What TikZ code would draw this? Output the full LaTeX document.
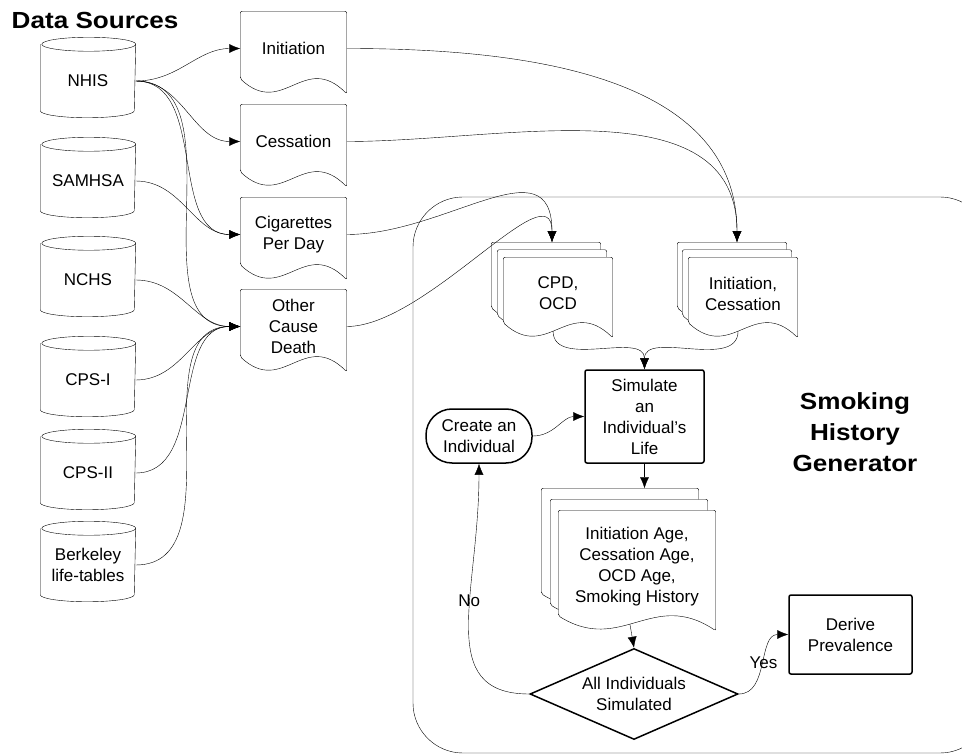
\documentclass[tikz,border=0pt]{standalone}
\usepackage{fontspec}
\setmainfont{Liberation Sans}
\newfontfamily\headfont[FakeStretch=1.12]{Liberation Sans}
\usetikzlibrary{arrows.meta, calc, backgrounds, shapes.geometric}

% data store outline round a source node
\newcommand{\cylpath}[1]{%
  (#1.north west) -- ([yshift=7pt]#1.south west)
  arc[start angle=180, end angle=360, x radius=47pt, y radius=7pt]
  -- (#1.north east)
  arc[start angle=0, end angle=360, x radius=47pt, y radius=7pt]}
% document outline (wavy bottom) round a docbox node
\newcommand{\docpath}[1]{%
  ([yshift=7pt]#1.south west) -- (#1.north west) -- (#1.north east)
  -- ([yshift=-8pt]#1.south east)
  .. controls ($(#1.south west)!0.6!(#1.south east)+(0pt,34pt)$)
  and ($(#1.south west)!0.4!(#1.south east)+(0pt,-32pt)$) .. ([yshift=7pt]#1.south west)
  coordinate[pos=0.55] (#1-bot) -- cycle}

\begin{document}
\begin{tikzpicture}
        [x=1pt, y=-1pt, line width=1.5pt,
        every node/.style={font=\fontsize{17}{21}\selectfont},
        heading/.style={font=\headfont\fontsize{23.3}{31}\bfseries\selectfont, inner sep=0pt},
        source/.style={rectangle, minimum width=94pt, minimum height=72pt,
        align=center, inner sep=0pt},
        docbox/.style={rectangle, minimum width=105pt, minimum height=73pt,
        align=center, inner sep=0pt},
        stack/.style={docbox, minimum width=108pt, minimum height=71pt},
        outstack/.style={docbox, minimum width=156pt, minimum height=111pt},
        block/.style={rectangle, draw, rounded corners=2pt, align=center},
        decision/.style={diamond, draw, aspect=2.29, align=center, inner sep=0pt,
        minimum width=208pt, minimum height=91pt},
        line/.style={draw, -{Latex[length=11pt,width=9pt]}}]
        \useasboundingbox (0,0) rectangle (962,754);

        % data sources
        \node [heading, anchor=west] (srctitle) at (11,20) {Data Sources};
        \node [source] (nhis) at (88,81) {NHIS};
        \node [source] (samhsa) at (88,181) {SAMHSA};
        \node [source] (nchs) at (88,280) {NCHS};
        \node [source] (cpsi) at (88,380) {CPS-I};
        \node [source] (cpsii) at (88,473) {CPS-II};
        \node [source] (berkeley) at (88,565) {Berkeley\\life-tables};

        % estimated inputs
        \node [docbox] (initdoc) at (293.5,48.5) {Initiation};
        \node [docbox] (cessdoc) at (293.5,141.5) {Cessation};
        \node [docbox] (cpddoc) at (293.5,234.5) {Cigarettes\\Per Day};
        \node [docbox] (ocddoc) at (293.5,326.5) {Other\\Cause\\Death};

        % generator
        \node [heading, align=center] (gentitle) at (855,432) {Smoking\\History\\Generator};
        \node [stack] (cpdback) at (546,278.5) {};
        \node [stack] (cpdmid) at (552,286) {};
        \node [stack] (cpd) at (558,293.5) {CPD,\\OCD};
        \node [stack] (icback) at (732,278.5) {};
        \node [stack] (icmid) at (737,286) {};
        \node [stack] (ic) at (743,293.5) {Initiation,\\Cessation};
        \node [block, minimum width=119pt, minimum height=93pt]
            (sim) at (644.5,416.5) {Simulate\\an\\Individual's\\Life};
        \node [block, rounded corners=26pt, minimum width=106pt, minimum height=54pt]
            (create) at (479,436) {Create an\\Individual};
        \node [outstack] (outback) at (620,544.5) {};
        \node [outstack] (outmid) at (629,555.5) {};
        \node [outstack] (out) at (637,566.5)
            {Initiation Age,\\Cessation Age,\\OCD Age,\\Smoking History};
        \node [decision] (done) at (634,694) {All Individuals\\Simulated};
        \node [block, minimum width=123pt, minimum height=79pt]
            (derive) at (850.5,634.5) {Derive\\Prevalence};

        \begin{pgfonlayer}{background}
            \draw [rounded corners=50pt] (413,197) rectangle (990,753);
            \foreach \n in {nhis, samhsa, nchs, cpsi, cpsii, berkeley}
                \draw \cylpath{\n};
            \foreach \n in {initdoc, cessdoc, cpddoc, ocddoc, cpdback, cpdmid, cpd,
                icback, icmid, ic, outback, outmid, out}
                \draw [fill=white, rounded corners=2pt] \docpath{\n};
        \end{pgfonlayer}

        \begin{scope}[every path/.style=line]
            \path (nhis.east) to[out=0,in=180] (initdoc.west);
            \path (nhis.east) to[out=0,in=180] (cessdoc.west);
            \path (nhis.east) to[out=0,in=180] (cpddoc.west);
            \path (nhis.east) to[out=0,in=180] (ocddoc.west);
            \path (samhsa.east) to[out=0,in=180] (cpddoc.west);
            \path (nchs.east) to[out=0,in=180] (ocddoc.west);
            \path (cpsi.east) to[out=0,in=180] (ocddoc.west);
            \path (cpsii.east) to[out=0,in=180] (ocddoc.west);
            \path (berkeley.east) to[out=0,in=180] (ocddoc.west);
            \path (initdoc.east) to[out=0,in=90] ([xshift=5pt]icback.north);
            \path (cessdoc.east) to[out=0,in=90] ([xshift=5pt]icback.north);
            \path (cpddoc.east) .. controls +(100,0) and +(0,-100) .. ([xshift=6pt]cpdback.north);
            \path (ocddoc.east) .. controls +(80,0) and +(0,-75) .. ([xshift=6pt]cpdback.north);
            \path (cpd-bot) to[out=-90,in=90] (sim.north);
            \path (ic-bot) to[out=-90,in=90] (sim.north);
            \path (create.east) to[out=0,in=180] (sim.west);
            \path (sim.south) -- (sim.south |- outback.north);
            \path (out-bot) -- (done.north);
            \path (done.west) .. controls +(-95,0) and +(0,130) .. node [pos=0.6] {No} (create.south);
            \path (done.east) to[out=0,in=180] node [pos=0.5, yshift=2pt] {Yes} (derive.west);
        \end{scope}
\end{tikzpicture}
\end{document}
